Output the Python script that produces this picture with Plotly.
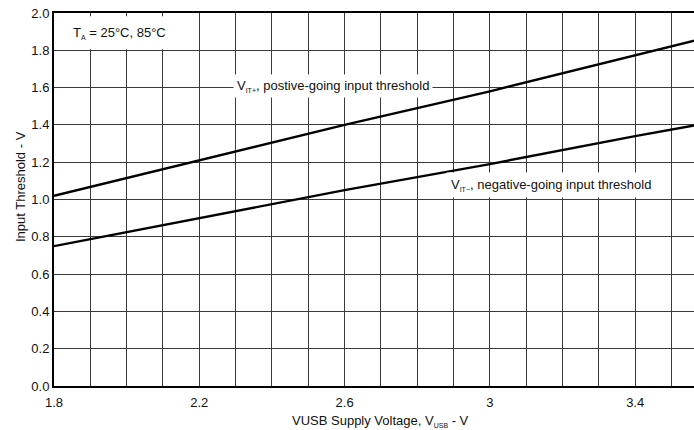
import plotly.graph_objects as go

# Data
vusb = [1.8, 2.2, 2.6, 3.0, 3.4, 3.6]
vit_pos = [1.02, 1.21, 1.40, 1.58, 1.77, 1.87]
vit_neg = [0.75, 0.90, 1.05, 1.19, 1.34, 1.41]

x_tickvals = [1.8, 2.2, 2.6, 3.0, 3.4]
x_ticktext = ["1.8", "2.2", "2.6", "3", "3.4"]
y_tickvals = [0.0, 0.2, 0.4, 0.6, 0.8, 1.0, 1.2, 1.4, 1.6, 1.8, 2.0]
y_ticktext = ["0.0", "0.2", "0.4", "0.6", "0.8", "1.0", "1.2", "1.4", "1.6", "1.8", "2.0"]

FONT = "Arial, 'Liberation Sans', sans-serif"
GRID = "#3a3a3a"
L, T, B, W, H = 54, 13, 44, 694, 430
PW, PH = W - L, H - T - B


def sub(s):
    return "<sub><span style='font-size:7px'>" + s + "</span></sub>"


fig = go.Figure()
fig.add_trace(go.Scatter(x=vusb, y=vit_pos, mode="lines",
                         line=dict(color="black", width=2.4), showlegend=False))
fig.add_trace(go.Scatter(x=vusb, y=vit_neg, mode="lines",
                         line=dict(color="black", width=2.4), showlegend=False))

fig.update_layout(
    width=W, height=H,
    margin=dict(l=L, r=0, t=T, b=B, pad=0),
    paper_bgcolor="white", plot_bgcolor="white",
    font=dict(family=FONT, size=13, color="#111"),
    xaxis=dict(
        range=[1.8, 3.562], tickvals=x_tickvals, ticktext=x_ticktext,
        showgrid=True, gridcolor=GRID, gridwidth=1.2,
        minor=dict(dtick=0.1, tick0=1.8, showgrid=True, gridcolor=GRID, gridwidth=1.2),
        showline=True, linecolor="black", linewidth=2, mirror=True,
        ticks="", zeroline=False, tickfont=dict(size=13), automargin=False,
        ticklabelstandoff=3,
    ),
    yaxis=dict(
        range=[0, 2.0], tickvals=y_tickvals, ticktext=y_ticktext,
        showgrid=True, gridcolor=GRID, gridwidth=1.2,
        showline=True, linecolor="black", linewidth=2, mirror=False,
        ticks="", zeroline=False, tickfont=dict(size=13), ticklabelstandoff=0,
        automargin=False,
    ),
)

# Axis titles (placed by pixel position converted to domain fractions)
fig.add_annotation(x=(380 - L) / PW, y=(H - B - 421) / PH, xref="x domain", yref="y domain",
                   xanchor="center", yanchor="middle", showarrow=False,
                   text="VUSB Supply Voltage, V" + sub("USB") + " - V", font=dict(size=13))
fig.add_annotation(x=(20 - L) / PW, y=(H - B - 187) / PH, xref="x domain", yref="y domain",
                   xanchor="center", yanchor="middle", showarrow=False, textangle=-90,
                   text="Input Threshold - V", font=dict(size=13))

# White box behind the temperature note
fig.add_shape(type="rect", xref="x", yref="y", x0=1.805, x1=2.19, y0=1.805, y1=1.982,
              fillcolor="white", line=dict(width=0), layer="above")

fig.add_annotation(x=1.981, y=1.894, xref="x", yref="y", showarrow=False,
                   xanchor="center", yanchor="middle",
                   text="T" + sub("A") + " = 25°C, 85°C", font=dict(size=13))
fig.add_annotation(x=2.569, y=1.607, xref="x", yref="y", showarrow=False,
                   xanchor="center", yanchor="middle",
                   text="V" + sub("IT+") + ", postive-going input threshold",
                   font=dict(size=13), bgcolor="white", borderpad=3)
fig.add_annotation(x=3.167, y=1.077, xref="x", yref="y", showarrow=False,
                   xanchor="center", yanchor="middle",
                   text="V" + sub("IT−") + ", negative-going input threshold",
                   font=dict(size=13), bgcolor="white", borderpad=4)

fig.write_html("out.html", config={"displayModeBar": False},
               post_script="document.body.style.margin='0';")
